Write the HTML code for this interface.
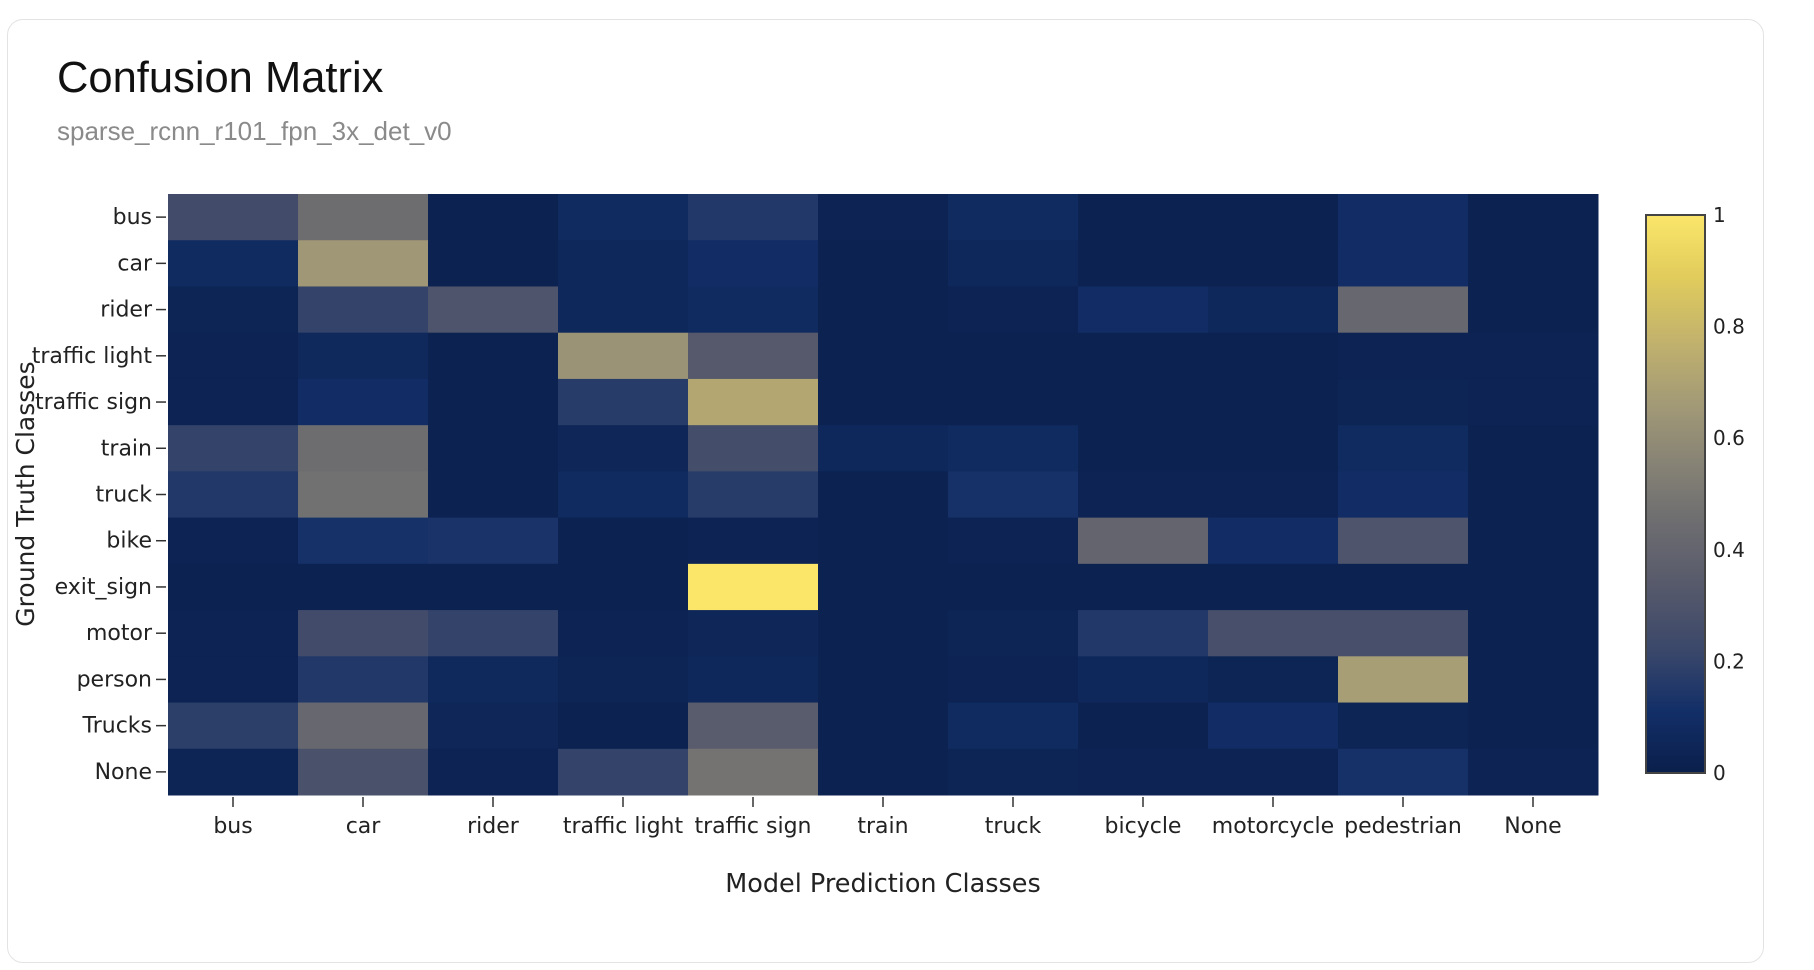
<!DOCTYPE html>
<html><head><meta charset="utf-8"><style>
html,body{margin:0;padding:0;background:#fff;width:1814px;height:970px;overflow:hidden;font-family:"Liberation Sans",sans-serif;}
#card{position:absolute;left:7px;top:19px;width:1757px;height:944px;border:1.5px solid #e3e3e3;border-radius:16px;box-sizing:border-box;}
#title{position:absolute;left:57px;top:54px;font-size:43.5px;color:#111;}
#sub{position:absolute;left:57px;top:116px;font-size:26px;color:#8a8a8a;}
svg{position:absolute;left:0;top:0;font-family:"DejaVu Sans",sans-serif;}
</style></head><body>
<div id="card"></div>
<div id="title">Confusion Matrix</div>
<div id="sub">sparse_rcnn_r101_fpn_3x_det_v0</div>
<svg id="chart" width="1814" height="970"></svg>
<script>
const predClasses = ["bus","car","rider","traffic light","traffic sign","train","truck","bicycle","motorcycle","pedestrian","None"];
const gtClasses = ["bus","car","rider","traffic light","traffic sign","train","truck","bike","exit_sign","motor","person","Trucks","None"];
const rowBus = [0.25,0.45,0.02,0.08,0.15,0.03,0.08,0.02,0.02,0.1,0.02];
const rowCar = [0.08,0.65,0.02,0.06,0.1,0.02,0.06,0.02,0.02,0.1,0.02];
const rowRider = [0.04,0.2,0.3,0.06,0.08,0.02,0.03,0.1,0.06,0.42,0.02];
const rowTrafficLight = [0.03,0.07,0.02,0.63,0.33,0.02,0.02,0.02,0.02,0.03,0.03];
const rowTrafficSign = [0.03,0.1,0.02,0.17,0.72,0.02,0.02,0.02,0.02,0.04,0.03];
const rowTrain = [0.2,0.45,0.02,0.05,0.26,0.06,0.08,0.02,0.02,0.08,0.02];
const rowTruck = [0.15,0.47,0.02,0.08,0.17,0.02,0.12,0.03,0.03,0.1,0.02];
const rowBike = [0.03,0.12,0.13,0.02,0.03,0.02,0.03,0.4,0.1,0.3,0.02];
const rowExitSign = [0.02,0.02,0.02,0.02,1.0,0.02,0.02,0.02,0.02,0.02,0.02];
const rowMotor = [0.03,0.25,0.2,0.03,0.05,0.02,0.04,0.15,0.27,0.27,0.02];
const rowPerson = [0.03,0.15,0.07,0.04,0.06,0.02,0.03,0.06,0.04,0.68,0.02];
const rowTrucks = [0.18,0.42,0.05,0.02,0.35,0.02,0.08,0.02,0.1,0.04,0.02];
const rowNone = [0.04,0.28,0.03,0.2,0.48,0.02,0.04,0.03,0.03,0.12,0.03];
const matrix = [rowBus,rowCar,rowRider,rowTrafficLight,rowTrafficSign,rowTrain,rowTruck,rowBike,rowExitSign,rowMotor,rowPerson,rowTrucks,rowNone];
const colorTicks = ["0","0.2","0.4","0.6","0.8","1"];
const colorTickValues = [0,0.2,0.4,0.6,0.8,1];

const NS="http://www.w3.org/2000/svg";
const svg=document.getElementById('chart');
const PL=168,PR=1598,PT=194,PB=795;
const cw=(PR-PL)/predClasses.length, ch=(PB-PT)/gtClasses.length;
const xPos=i=>PL+i*cw, yPos=j=>PT+j*ch;
const stops=[[0,"#0a1f4b"],[0.111,"#132f68"],[0.222,"#3b486a"],[0.333,"#56596b"],[0.444,"#6c6c70"],[0.556,"#878375"],[0.667,"#a49b76"],[0.778,"#c3b36c"],[0.889,"#e1cc5c"],[1,"#fbe66a"]];
function hex(h){return [1,3,5].map(k=>parseInt(h.substr(k,2),16));}
function color(v){v=Math.max(0,Math.min(1,v));for(let k=1;k<stops.length;k++){if(v<=stops[k][0]){const a=stops[k-1],b=stops[k];const t=(v-a[0])/(b[0]-a[0]);const ca=hex(a[1]),cb=hex(b[1]);return "rgb("+ca.map((c,i)=>Math.round(c+(cb[i]-c)*t)).join(",")+")";}}return stops[stops.length-1][1];}
function mk(tag,attrs,text){const e=document.createElementNS(NS,tag);for(const k in attrs)e.setAttribute(k,attrs[k]);if(text!==undefined)e.textContent=text;svg.appendChild(e);return e;}

matrix.forEach((row,j)=>row.forEach((v,i)=>{
  const r=mk('rect',{x:xPos(i),y:yPos(j),width:cw+0.5,height:ch+0.5,fill:color(v)});
  
  
}));
gtClasses.forEach((c,j)=>{
  const y=yPos(j)+ch/2;
  const t=mk('line',{x1:156,x2:166,y1:y,y2:y,stroke:'#333','stroke-width':1.5});
  
  
  const l=mk('text',{x:152,y:y+7,'text-anchor':'end','font-size':22,fill:'#222'},c);
  
  
});
predClasses.forEach((c,i)=>{
  const x=xPos(i)+cw/2;
  const t=mk('line',{x1:x,x2:x,y1:797,y2:807,stroke:'#333','stroke-width':1.5});
  
  
  const l=mk('text',{x:x,y:833,'text-anchor':'middle','font-size':22,fill:'#222'},c);
  
  
});
const xt=mk('text',{x:(PL+PR)/2,y:892,'text-anchor':'middle','font-size':25.5,fill:'#222'},'Model Prediction Classes');


const yt=mk('text',{x:0,y:0,transform:'translate(34,494) rotate(-90)','text-anchor':'middle','font-size':25,fill:'#222'},'Ground Truth Classes');



const CB={x:1646,w:59,t:215,b:773};
const defs=document.createElementNS(NS,'defs');svg.appendChild(defs);
const g=document.createElementNS(NS,'linearGradient');g.setAttribute('id','cg');g.setAttribute('x1','0');g.setAttribute('y1','1');g.setAttribute('x2','0');g.setAttribute('y2','0');defs.appendChild(g);
stops.forEach(s=>{const st=document.createElementNS(NS,'stop');st.setAttribute('offset',s[0]);st.setAttribute('stop-color',s[1]);g.appendChild(st);});
const cb=mk('rect',{x:CB.x,y:CB.t,width:CB.w,height:CB.b-CB.t,fill:'url(#cg)',stroke:'#444','stroke-width':2});


colorTickValues.forEach((v,k)=>{
  const y=CB.b-v*(CB.b-CB.t);
  const l=mk('text',{x:CB.x+CB.w+8,y:y+7,'font-size':20,fill:'#222'},colorTicks[k]);
  
  
});
</script>
</body></html>
